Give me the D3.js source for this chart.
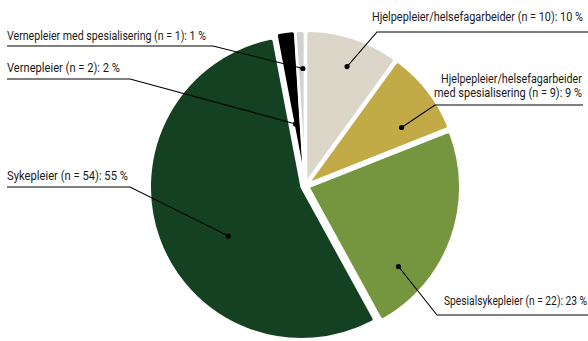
<!DOCTYPE html>
<html><head><meta charset="utf-8">
<script src="https://cdn.jsdelivr.net/npm/d3@7"></script>
<style>body{margin:0;background:#fff}svg{display:block}</style>
</head><body><svg id="c" width="588" height="341"></svg>
<script>
// ---- data ----
const categories = ["Hjelpepleier/helsefagarbeider", "Hjelpepleier/helsefagarbeider med spesialisering", "Spesialsykepleier", "Sykepleier", "Vernepleier", "Vernepleier med spesialisering"];
const counts = [10, 9, 22, 54, 2, 1];
const percents = [10, 9, 23, 55, 2, 1];
const colors = ["#dbd6c8", "#c2ab47", "#75963e", "#154123", "#000000", "#d2d2d2"];

// ---- layout (annotation placement, not data) ----
const labelLayout = [
  {anchor: "end",   x: 583, baselines: [21],         widths: [211],      uy: 32,  ux0: 377, ux1: 588, t: 0.54, rf: 0.81},
  {anchor: "end",   x: 582, baselines: [83.4, 97.1], widths: [141, 148], uy: 105, ux0: 435, ux1: 583, t: 0.71, rf: 0.72},
  {anchor: "start", x: 444, baselines: [305],        widths: [143],      uy: 315, ux0: 437, ux1: 588, t: 0.76, rf: 0.79},
  {anchor: "start", x: 7,   baselines: [180],        widths: [121],      uy: 187, ux0: 130, ux1: 7,   t: 0.43, rf: 0.58},
  {anchor: "start", x: 7,   baselines: [72],         widths: [113],      uy: 79,  ux0: 130, ux1: 7,   t: 0.29, rf: 0.39},
  {anchor: "start", x: 7,   baselines: [40],         widths: [199],      uy: 46,  ux0: 213, ux1: 7,   t: 0.72, rf: 0.75}
];

const cx = 305, cy = 186, R = 152, explode = 3.5;

const svg = d3.select("#c");
const fontFam = '"Liberation Sans Narrow", Roboto, sans-serif';

const data = categories.map((c, i) => ({cat: c, n: counts[i], p: percents[i], color: colors[i], lay: labelLayout[i]}));

const pie = d3.pie().sort(null).value(d => d.p).startAngle(0).endAngle(2 * Math.PI);
const arcs = pie(data);
const arc = d3.arc().innerRadius(0).outerRadius(R).cornerRadius(3);

const g = svg.append("g").attr("transform", `translate(${cx},${cy})`);

function offset(a) {
  const m = (a.startAngle + a.endAngle) / 2;
  return [Math.sin(m) * explode, -Math.cos(m) * explode];
}

g.selectAll("path.slice").data(arcs).join("path")
  .attr("class", "slice")
  .attr("transform", a => `translate(${offset(a)})`)
  .attr("d", arc)
  .attr("fill", a => a.data.color)
  .attr("stroke", "#fff")
  .attr("stroke-width", 2.5)
  .attr("stroke-linejoin", "round");

// labels
const lab = svg.append("g").attr("font-family", fontFam).attr("font-size", 12.2).attr("fill", "#1a1a1a");

arcs.forEach(a => {
  const L = a.data.lay;
  const ang = a.startAngle + (a.endAngle - a.startAngle) * L.t;
  const [ox, oy] = offset(a);
  const dx = cx + ox + Math.sin(ang) * R * L.rf;
  const dy = cy + oy - Math.cos(ang) * R * L.rf;
  const full = `${a.data.cat} (n = ${a.data.n}): ${a.data.p} %`;
  let lines = [full];
  if (L.baselines.length > 1) {
    const k = full.indexOf(" med ");
    lines = [full.slice(0, k), full.slice(k + 1)];
  }
  lines.forEach((t, i) => {
    const txt = lab.append("text").attr("x", 0).attr("y", 0).text(t);
    const natural = txt.node().getComputedTextLength();
    const w = L.widths[i];
    const s = Math.min(1.1, w / natural);
    const x0 = L.anchor === "end" ? L.x - natural * s : L.x;
    txt.attr("transform", `translate(${x0},${L.baselines[i]}) scale(${s},1)`);
  });
  lab.append("path")
    .attr("d", `M${L.ux1},${L.uy}L${L.ux0},${L.uy}L${dx},${dy}`)
    .attr("fill", "none").attr("stroke", "#000").attr("stroke-width", 1.1);
  lab.append("circle").attr("cx", dx).attr("cy", dy).attr("r", 2.6).attr("fill", "#000");
});
</script></body></html>
